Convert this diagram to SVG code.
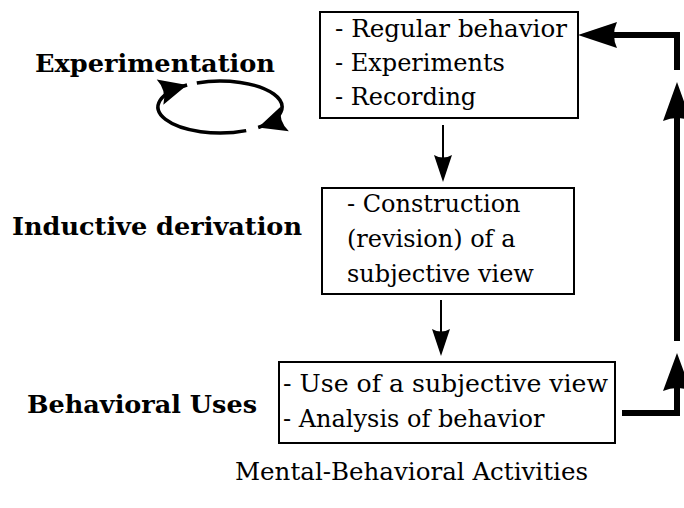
<svg xmlns="http://www.w3.org/2000/svg" width="684" height="508" viewBox="0 0 684 508">
<style>
text{font-family:"DejaVu Serif","Liberation Serif",serif;font-size:24px;fill:#000}
.b{font-weight:bold;font-size:25px}
.box{fill:#fff;stroke:#000;stroke-width:2}
.thin{fill:none;stroke:#000;stroke-width:2}
.thick{fill:none;stroke:#000;stroke-width:6}
.cyc{fill:none;stroke:#000;stroke-width:3.5}
.head{fill:#000}
</style>
<defs>
<marker id="cyh" markerUnits="userSpaceOnUse" viewBox="-30 -14 32 28" refX="0" refY="0" markerWidth="32" markerHeight="28" orient="auto">
<path d="M0,0 L-28,-13 Q-21,0 -28,13 Z" fill="#000"/>
</marker>
</defs>
<rect width="684" height="508" fill="#fff"/>

<g id="label-experimentation"><text class="b" x="35" y="72" textLength="240" lengthAdjust="spacingAndGlyphs">Experimentation</text></g>
<g id="label-inductive"><text class="b" x="12" y="235" textLength="290" lengthAdjust="spacingAndGlyphs">Inductive derivation</text></g>
<g id="label-behavioral"><text class="b" x="27" y="413" textLength="230" lengthAdjust="spacingAndGlyphs">Behavioral Uses</text></g>
<g id="caption"><text x="235" y="480" textLength="353" lengthAdjust="spacingAndGlyphs">Mental-Behavioral Activities</text></g>

<g id="cycle">
<path class="cyc" d="M196.8,82.9 A62,26 0 0 1 258.2,127.5" marker-end="url(#cyh)"/>
<path class="cyc" d="M246.2,130.6 A62,26 0 0 1 187.1,85" marker-end="url(#cyh)"/>
</g>

<g id="box1">
<rect class="box" x="320" y="12" width="258" height="106"/>
<text x="335" y="37" textLength="232" lengthAdjust="spacingAndGlyphs">- Regular behavior</text>
<text x="335" y="71">- Experiments</text>
<text x="335" y="105">- Recording</text>
</g>

<g id="box2">
<rect class="box" x="322" y="188" width="252" height="106"/>
<text x="347" y="212">- Construction</text>
<text x="347" y="247">(revision) of a</text>
<text x="347" y="282">subjective view</text>
</g>

<g id="box3">
<rect class="box" x="279" y="362" width="336" height="81"/>
<text x="283" y="392" textLength="325" lengthAdjust="spacingAndGlyphs">- Use of a subjective view</text>
<text x="283" y="427">- Analysis of behavior</text>
</g>

<g id="connectors">
<line class="thin" x1="443" y1="125" x2="443" y2="160"/>
<path class="head" d="M443,182 L434,155 Q443,160 452,155 Z"/>
<line class="thin" x1="441" y1="300" x2="441" y2="334"/>
<path class="head" d="M441,356 L432,329 Q441,334 450,329 Z"/>
<path class="thick" d="M622,413 H677 V385"/>
<path class="head" d="M677,353 L663,391 Q677,385 691,391 Z"/>
<line class="thick" x1="677" y1="341" x2="677" y2="114"/>
<path class="head" d="M677,82 L663,121 Q677,115 691,121 Z"/>
<path class="thick" d="M677,70 V35 H612"/>
<path class="head" d="M578,35 L617,22 Q611,35 617,48 Z"/>
</g>
</svg>
